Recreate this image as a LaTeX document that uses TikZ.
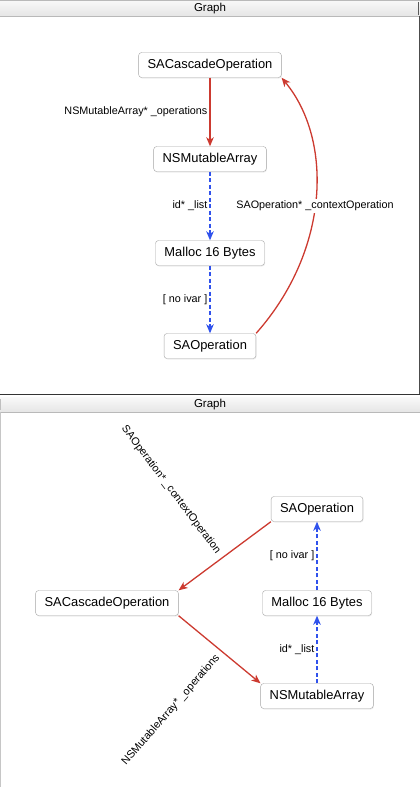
\documentclass[tikz,border=0pt]{standalone}
\usepackage{fontspec}
\setmainfont{Liberation Sans}
\usetikzlibrary{arrows.meta,shadows}
\definecolor{refred}{RGB}{204,58,48}
\definecolor{ptrblue}{RGB}{48,82,236}
\definecolor{boxgray}{RGB}{165,165,165}
\tikzset{
  objbox/.style={draw=boxgray,rounded corners=3pt,fill=white,minimum height=25pt,
    inner xsep=9pt,font=\fontsize{12.9}{15}\selectfont,
    drop shadow={opacity=0.15,shadow xshift=0.6pt,shadow yshift=-1pt}},
  ivar/.style={->,refred,line width=1.3pt},
  noivar/.style={->,ptrblue,line width=1.3pt,dash pattern=on 4pt off 2.5pt},
  lbl/.style={text=black,font=\fontsize{10.8}{12}\selectfont,inner sep=2pt},
  titlebar/.style={top color=gray!5,bottom color=gray!20},
  titletxt/.style={font=\fontsize{11.5}{13}\selectfont,inner sep=0pt}
}
\begin{document}
\begin{tikzpicture}[x=1pt,y=-1pt,>={Stealth[length=9pt,width=7.5pt,inset=2.5pt]}]
\useasboundingbox (0,0) rectangle (420,800);
% upper window
\shade[titlebar] (0,0) rectangle (420,16);
\draw[gray!55] (0,0.5) -- (420,0.5); \draw[gray!55] (0,16) -- (420,16);
\draw[gray!70!black,line width=1pt] (418.5,2) -- (418.5,15);
\draw[gray!60!black] (419.5,16) -- (419.5,394);
\draw[black!80,line width=1.5pt] (0,394.5) -- (420,394.5);
\node[titletxt] (title1) at (210,8.5) {Graph};
\node[objbox] (casc1) at (210,65) {SACascadeOperation};
\node[objbox] (arr1) at (210,159) {NSMutableArray};
\node[objbox] (mal1) at (210,253) {Malloc 16 Bytes};
\node[objbox] (op1) at (210,346) {SAOperation};
\draw[ivar] (casc1) -- node[lbl,left] {NSMutableArray* \_operations} (arr1);
\draw[noivar] (arr1) -- node[lbl,left] {id* \_list} (mal1);
\draw[noivar] (mal1) -- node[lbl,left] {[ no ivar ]} (op1);
\draw[ivar] (op1.north east) .. controls (330,250) and (333,140) .. node[lbl,fill=white,pos=0.47] {SAOperation* \_contextOperation} (casc1.south east);
% lower window
\shade[titlebar] (0,397) rectangle (420,412);
\draw[gray!55] (0,412) -- (420,412);
\draw[gray!50] (0.5,399) -- (0.5,410);
\draw[gray!45,line width=1.2pt] (0.6,412) -- (0.6,787);
\node[titletxt] (title2) at (210,405) {Graph};
\node[objbox] (op2) at (317,509) {SAOperation};
\node[objbox] (casc2) at (107,603) {SACascadeOperation};
\node[objbox] (mal2) at (317,603) {Malloc 16 Bytes};
\node[objbox] (arr2) at (317,696) {NSMutableArray};
\draw[ivar] (op2.south west) -- (casc2.north east);
\node[lbl,rotate=-53] (lctx2) at (171,490) {SAOperation* \_contextOperation};
\draw[ivar] (casc2.south east) -- (arr2.north west);
\node[lbl,rotate=49] (lops2) at (171,710) {NSMutableArray* \_operations};
\draw[noivar] (arr2) -- node[lbl,left] {id* \_list} (mal2);
\draw[noivar] (mal2) -- node[lbl,left] {[ no ivar ]} (op2);
\end{tikzpicture}
\end{document}
